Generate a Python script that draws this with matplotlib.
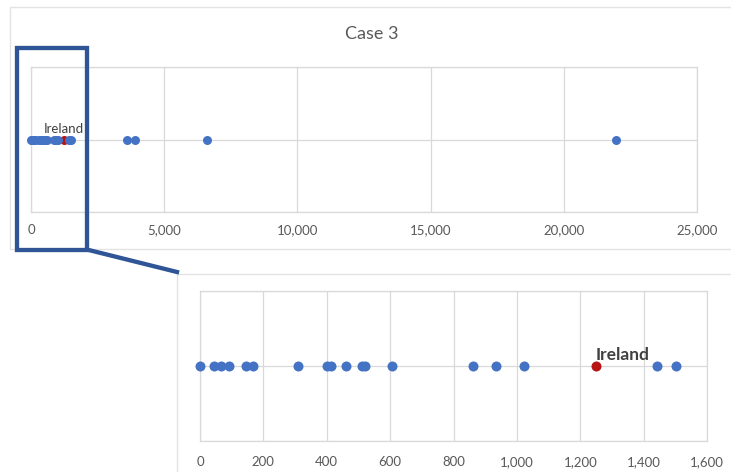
import matplotlib.pyplot as plt
from matplotlib.patches import Rectangle
from matplotlib.lines import Line2D
from matplotlib.ticker import FuncFormatter

plt.rcParams['font.family'] = ['Lato', 'DejaVu Sans']

# data
small_vals = [0, 45, 65, 93, 145, 168, 308, 400, 413, 461, 511, 521, 606,
              861, 933, 1022, 1442, 1503]
large_vals = [3590, 3900, 6590, 21960]
ireland_val = 1250
top_ticks = [0, 5000, 10000, 15000, 20000, 25000]
zoom_ticks = [0, 200, 400, 600, 800, 1000, 1200, 1400, 1600]

BLUE = '#4472C4'
RED = '#B81414'
GRID = '#D9D9D9'
TXT = '#595959'
FRAME = '#E3E3E3'
BOX = '#2F5597'

W, H = 731, 472
fig = plt.figure(figsize=(W / 100, H / 100), dpi=100)


def px_rect(x0, y0, x1, y1):
    return [x0 / W, 1 - y1 / H, (x1 - x0) / W, (y1 - y0) / H]


def fx(x):
    return x / W


def fy(y):
    return 1 - y / H


comma = FuncFormatter(lambda v, p: f'{int(v):,}')

# chart frames
fig.add_artist(Rectangle((fx(10), fy(249)), fx(740) - fx(10), fy(7) - fy(249),
                         transform=fig.transFigure, fill=False,
                         edgecolor=FRAME, lw=1.0))
fig.add_artist(Rectangle((fx(177), fy(490)), fx(740) - fx(177), fy(274) - fy(490),
                         transform=fig.transFigure, fill=False,
                         edgecolor=FRAME, lw=1.0))


def style(ax, ticks, pad):
    ax.set_ylim(-1, 1)
    ax.set_yticks([-1, 0, 1])
    ax.set_xticks(ticks)
    ax.set_xlim(ticks[0], ticks[-1])
    ax.xaxis.set_major_formatter(comma)
    ax.grid(True, color=GRID, lw=0.9)
    ax.set_axisbelow(True)
    for s in ax.spines.values():
        s.set_color(GRID)
        s.set_linewidth(0.9)
    ax.tick_params(axis='y', left=False, labelleft=False)
    ax.tick_params(axis='x', length=0, pad=pad, labelcolor=TXT, labelsize=9.5)
    ax.patch.set_alpha(0)


# top chart
ax1 = fig.add_axes(px_rect(31, 67, 697, 212))
style(ax1, top_ticks, 9)
ax1.scatter([ireland_val], [0], s=42, color=RED, zorder=3, lw=0, clip_on=False)
ax1.scatter(small_vals + large_vals, [0] * (len(small_vals) + len(large_vals)),
            s=42, color=BLUE, zorder=4, lw=0, clip_on=False)
ax1.annotate('Ireland', (ireland_val, 0), xytext=(0, 3.5), textcoords='offset points',
             ha='center', va='bottom', fontsize=9.5, color='#404040', zorder=5)
fig.text(fx(372), fy(34), 'Case 3', ha='center', va='center', fontsize=13, color=TXT)

# zoomed chart
ax2 = fig.add_axes(px_rect(200, 291, 707, 441))
style(ax2, zoom_ticks, 11)
ax2.scatter(small_vals, [0] * len(small_vals), s=52, color=BLUE, zorder=4, lw=0,
            clip_on=False)
ax2.scatter([ireland_val], [0], s=52, color=RED, zorder=4, lw=0, clip_on=False)
ax2.annotate('Ireland', (ireland_val, 0), xytext=(0, 2), textcoords='offset points',
             ha='left', va='bottom', fontsize=12.5, fontweight='bold',
             color='#404040', zorder=5)

# zoom box and connector
fig.add_artist(Rectangle((fx(17), fy(249.5)), fx(86.7) - fx(17), fy(48.3) - fy(249.5),
                         transform=fig.transFigure, fill=False,
                         edgecolor=BOX, lw=3.1, zorder=10))
fig.add_artist(Line2D([fx(86.7), fx(177)], [fy(249.5), fy(272)],
                      transform=fig.transFigure, color=BOX, lw=3.1, zorder=10))

fig.savefig('out.png', dpi=100)
